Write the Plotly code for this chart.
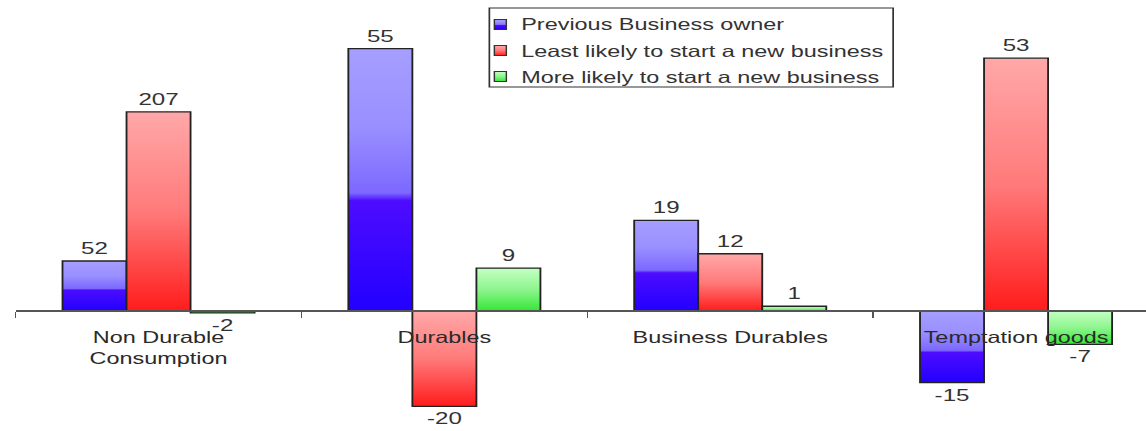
import plotly.graph_objects as go

# ---- data -------------------------------------------------------------
categories = ["Non Durable<br>Consumption", "Durables", "Business Durables", "Temptation goods"]
series_names = [
    "Previous Business owner",
    "Least likely to start a new business",
    "More likely to start a new business",
]
previous_owner = [52, 55, 19, -15]
least_likely = [207, -20, 12, 53]
more_likely = [-2, 9, 1, -7]

# ---- styling ------------------------------------------------------------
base_colors = ["rgb(60, 30, 255)", "rgb(255, 60, 60)", "rgb(90, 230, 90)"]
FONT = "Liberation Sans, Arial, sans-serif"
TXT = "#333333"

# the figure is drawn narrow and stretched horizontally in the page
W_OUT, H = 1146, 431
W = 807
S = W_OUT / W
L = 15 / S                      # left margin in figure pixels
CAT_PX = 286 / S                # one category slot
ZERO_Y = 311                    # pixel row of the value axis zero
PX_PER_UNIT = 4.77
Y2_FACTOR = 4.96                # first group is plotted on its own scale

y_range = [-(H - ZERO_Y) / PX_PER_UNIT, ZERO_Y / PX_PER_UNIT]
y2_range = [v * Y2_FACTOR for v in y_range]
x_range = [-0.5, -0.5 + (W - L) / CAT_PX]

bar_width = 0.224
offsets = [-0.336, -0.112, 0.112]

fig = go.Figure()
series = [previous_owner, least_likely, more_likely]
for i, (name, vals) in enumerate(zip(series_names, series)):
    # first category on the secondary scale
    fig.add_trace(go.Bar(
        x=categories[:1], y=vals[:1], name=name, yaxis="y2",
        width=bar_width, offset=offsets[i], showlegend=False,
        marker=dict(color=base_colors[i], line=dict(color="#222222", width=1.3)),
        text=[str(v) for v in vals[:1]], texttemplate="%{text}",
        textposition="outside", cliponaxis=False, constraintext="none",
        textfont=dict(family=FONT, size=17, color=TXT),
        hoverinfo="skip",
    ))
    fig.add_trace(go.Bar(
        x=categories[1:], y=vals[1:], name=name, yaxis="y",
        width=bar_width, offset=offsets[i], showlegend=False,
        marker=dict(color=base_colors[i], line=dict(color="#222222", width=1.3)),
        text=[str(v) for v in vals[1:]], texttemplate="%{text}",
        textposition="outside", cliponaxis=False, constraintext="none",
        textfont=dict(family=FONT, size=17, color=TXT),
        hoverinfo="skip",
    ))


def px_x(xf):
    return (xf / S - L) / (W - L)


def px_y(yf):
    return 1 - yf / H


# legend box, swatches and entries
shapes = [dict(type="rect", xref="paper", yref="paper",
               x0=px_x(489), x1=px_x(893), y0=px_y(87), y1=px_y(8),
               line=dict(color="#333333", width=1.2), fillcolor="white")]
annotations = []
rows = [24.5, 50.5, 76.5]
for i, name in enumerate(series_names):
    r = rows[i]
    shapes.append(dict(type="rect", xref="paper", yref="paper",
                       x0=px_x(494), x1=px_x(506), y0=px_y(r + 5), y1=px_y(r - 5),
                       line=dict(color="#333333", width=1), fillcolor=base_colors[i]))
    annotations.append(dict(x=px_x(518), y=px_y(r), xref="paper", yref="paper",
                            text=name, showarrow=False, xanchor="left", yanchor="middle",
                            font=dict(family=FONT, size=16.5, color=TXT)))

fig.update_layout(
    width=W, height=H,
    margin=dict(l=L, r=0, t=0, b=0),
    paper_bgcolor="white", plot_bgcolor="white",
    showlegend=False,
    barmode="group",
    font=dict(family=FONT, size=16.5, color=TXT),
    xaxis=dict(
        type="category", categoryorder="array", categoryarray=categories,
        range=x_range, anchor="free", position=(H - ZERO_Y) / H,
        showline=True, linecolor="#555555", linewidth=1.6,
        ticks="outside", tickson="boundaries", ticklen=6, tickwidth=1.2, tickcolor="#555555",
        ticklabelstandoff=11,
        showgrid=False, zeroline=False,
        tickfont=dict(family=FONT, size=16.5, color="#2a2a2a"),
    ),
    yaxis=dict(range=y_range, visible=False, showgrid=False, zeroline=False),
    yaxis2=dict(range=y2_range, overlaying="y", visible=False, showgrid=False, zeroline=False),
    shapes=shapes,
    annotations=annotations,
)

post = """
var gd = document.getElementById('{plot_id}');
document.documentElement.style.margin = '0';
document.body.style.margin = '0';
document.body.style.overflow = 'hidden';
gd.style.transformOrigin = '0 0';
gd.style.transform = 'scaleX(%(S)f)';
var ns = 'http://www.w3.org/2000/svg';
var svg = gd.querySelector('svg.main-svg');
var defs = document.createElementNS(ns, 'defs');
var grads = {
  gBlue: [[0, '#a69eff'], [0.3, '#9a8fff'], [0.55, '#7c68ff'], [0.58, '#4d0cff'], [1, '#2200ff']],
  gRed: [[0, '#ffa8a8'], [0.5, '#ff7a7a'], [1, '#ff1c1c']],
  gGreen: [[0, '#c4ffc4'], [0.5, '#8ef58e'], [1, '#36e636']]
};
Object.keys(grads).forEach(function (id) {
  var lg = document.createElementNS(ns, 'linearGradient');
  lg.setAttribute('id', id);
  lg.setAttribute('x1', '0'); lg.setAttribute('y1', '0');
  lg.setAttribute('x2', '0'); lg.setAttribute('y2', '1');
  grads[id].forEach(function (s) {
    var st = document.createElementNS(ns, 'stop');
    st.setAttribute('offset', s[0]);
    st.setAttribute('stop-color', s[1]);
    lg.appendChild(st);
  });
  defs.appendChild(lg);
});
svg.insertBefore(defs, svg.firstChild);
var map = {'rgb(60, 30, 255)': 'gBlue', 'rgb(255, 60, 60)': 'gRed', 'rgb(90, 230, 90)': 'gGreen'};
gd.querySelectorAll('path').forEach(function (p) {
  var f = p.style.fill;
  if (map[f]) { p.style.fill = 'url(#' + map[f] + ')'; }
});
""" % {"S": S}

fig.write_html("out.html", post_script=post)
